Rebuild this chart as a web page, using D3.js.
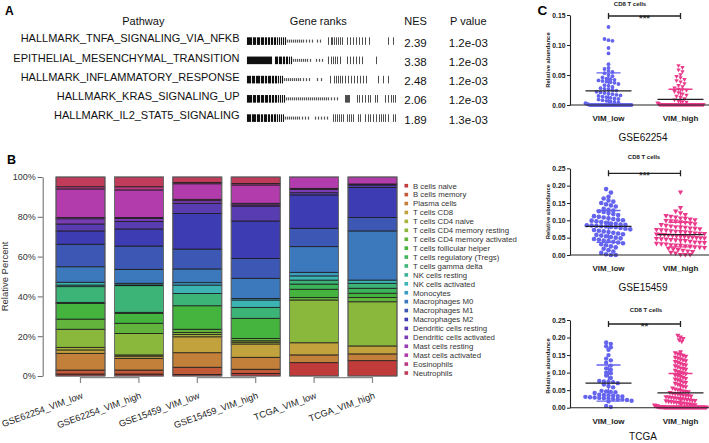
<!DOCTYPE html>
<html><head><meta charset="utf-8">
<script src="https://cdn.jsdelivr.net/npm/d3@7"></script>
<style>body{margin:0;background:#fff}svg{display:block;font-family:"Liberation Sans",Arial,sans-serif}</style>
</head><body>
<svg id="c" width="709" height="443"></svg>
<script>
// ---------------- Panel A data ----------------
const pathways = ["HALLMARK_TNFA_SIGNALING_VIA_NFKB","EPITHELIAL_MESENCHYMAL_TRANSITION","HALLMARK_INFLAMMATORY_RESPONSE","HALLMARK_KRAS_SIGNALING_UP","HALLMARK_IL2_STAT5_SIGNALING"];
const nesValues = [2.39, 3.38, 2.48, 2.06, 1.89];
const pValues = ["1.2e-03","1.2e-03","1.2e-03","1.2e-03","1.3e-03"];
const rankHits = [
  [0,1,2,3,4,6,7,8,10,11,12,14,15,16,18,19,21,22,24,25,27,28,30,32,34,36,38,81,84,85,87,89,91,93,95,100,103,106,109,112,115,118,122,141,146],
  [0,1,2,3,4,5,6,7,8,9,10,11,12,13,14,15,16,17,18,19,20,21,22,23,24,28,29,30,32,33,34,36,37,39,40,42,44,81,84,86,88,90,93,100,103,106,109,112,115,129],
  [0,1,2,3,5,6,7,9,10,11,12,14,15,16,18,19,21,22,23,25,26,28,29,31,33,35,83,87,89,91,93,95,98,101,104,107,110,113,116,119,131,136,141],
  [0,1,2,3,4,6,7,8,10,11,12,14,15,16,18,19,20,22,23,25,26,28,29,31,33,35,37,98,99,100,101,102,110,112,115,118,121,123,128,130,138,141,144,146,148],
  [0,1,2,3,5,6,7,8,10,11,12,14,15,17,18,19,21,22,24,25,27,28,30,32,34,36,86,88,90,92,94,96,100,102,104,106,111,113,118,121,123,126,129,132,134,136,138,141,146,148]
];
const rankTail = [
  [40,42,44,46,48,50,52,54,56,59,62,65,70,73],
  [46,48,50,52,54,56,58,60,63,69,72,75],
  [37,39,41,43,45,47,49,51,53,56,59,62,70,74],
  [39,41,43,45,47,49,51,53,55,57,59,61,63,65,67,69,71,73,75,77,79,81,84,87,90],
  [38,40,42,44,46,48,50,52,55,58,61,68,71,74,77,80]
];

// ---------------- Panel B data ----------------
const samples = ["GSE62254_VIM_low","GSE62254_VIM_high","GSE15459_VIM_low","GSE15459_VIM_high","TCGA_VIM_low","TCGA_VIM_high"];
const cellTypes = ["B cells naive","B cells memory","Plasma cells","T cells CD8","T cells CD4 naive","T cells CD4 memory resting","T cells CD4 memory activated","T cells follicular helper","T cells regulatory (Tregs)","T cells gamma delta","NK cells resting","NK cells activated","Monocytes","Macrophages M0","Macrophages M1","Macrophages M2","Dendritic cells resting","Dendritic cells activated","Mast cells resting","Mast cells activated","Eosinophils","Neutrophils"];
const gse62254Low  = [1.0,2.0,8.4,1.7,1.3,9.1,5.1,7.9,0.5,7.9,0.8,1.4,0.0,7.8,11.3,6.7,3.5,2.6,0.6,14.4,1.1,4.9];
const gse62254High = [1.0,2.0,5.9,1.1,0.6,10.8,5.1,5.0,0.5,13.4,0.4,0.8,0.0,7.0,11.7,8.6,3.8,1.4,0.6,13.8,1.6,4.9];
const gse15459Low  = [0.8,3.6,7.3,8.0,1.1,1.0,1.7,11.8,0.0,6.2,0.0,4.2,1.2,6.9,10.0,17.9,5.1,1.3,0.7,7.8,0.7,2.7];
const gse15459High = [1.3,2.1,6.0,6.7,0.9,0.7,1.2,10.1,0.0,5.5,0.0,3.7,0.8,10.1,10.0,18.8,7.5,0.6,0.8,9.2,0.8,3.2];
const tcgaLow      = [6.7,0.0,3.9,6.1,0.0,21.5,1.3,4.1,2.6,2.0,0.0,2.1,1.8,12.9,9.2,16.8,1.1,1.7,0.5,5.7,0.0,0.0];
const tcgaHigh     = [7.7,0.0,3.4,4.0,0.0,22.2,2.2,2.1,2.5,2.5,0.0,1.6,0.0,24.7,6.7,15.2,1.2,0.5,0.0,3.5,0.0,0.0];
const yTicksB = [0,20,40,60,80,100];

// ---------------- Panel C data ----------------
const groups = ["VIM_low","VIM_high"];
const cd8Gse62254Low = [0.130,0.110,0.108,0.107,0.095,0.086,0.068,0.062,0.060,0.057,0.055,0.053,0.050,0.048,0.046,0.044,0.043,0.042,0.041,0.040,0.039,0.038,0.037,0.035,0.033,0.032,0.030,0.028,0.027,0.026,0.025,0.024,0.022,0.021,0.020,0.019,0.018,0.017,0.016,0.015,0.014,0.013,0.012,0.011,0.010,0.009,0.008,0.007,0.006,0.005,0.004,0.003,0.002,0.001,0,0,0,0,0,0,0,0,0,0,0,0,0,0,0,0,0,0,0,0,0,0,0,0,0,0,0,0,0,0];
const cd8Gse62254High = [0.065,0.062,0.058,0.055,0.050,0.047,0.045,0.042,0.040,0.038,0.035,0.032,0.030,0.028,0.026,0.025,0.024,0.022,0.020,0.018,0.016,0.014,0.012,0.010,0.008,0.006,0.005,0.004,0.003,0.002,0.001,0,0,0,0,0,0,0,0,0,0,0,0,0,0,0,0,0,0,0,0,0,0,0,0,0,0,0,0,0,0,0,0,0,0,0,0,0,0,0,0,0,0,0,0,0,0,0,0,0,0,0,0,0,0,0,0,0,0,0,0];
const cd8Gse15459Low = [0.190,0.180,0.168,0.163,0.157,0.154,0.150,0.146,0.143,0.140,0.133,0.130,0.128,0.126,0.124,0.121,0.118,0.115,0.112,0.110,0.108,0.106,0.104,0.102,0.100,0.099,0.097,0.095,0.093,0.091,0.090,0.088,0.087,0.086,0.085,0.084,0.083,0.082,0.081,0.080,0.078,0.076,0.074,0.072,0.070,0.068,0.066,0.064,0.062,0.060,0.058,0.056,0.054,0.052,0.050,0.048,0.046,0.044,0.042,0.040,0.038,0.036,0.034,0.031,0.028,0.025,0.022,0.018,0.014,0.010,0.006,0.002,0.000,0.000];
const cd8Gse15459High = [0.180,0.135,0.125,0.120,0.115,0.112,0.110,0.108,0.105,0.104,0.102,0.100,0.098,0.097,0.096,0.094,0.092,0.090,0.088,0.086,0.084,0.082,0.080,0.079,0.078,0.076,0.075,0.074,0.072,0.071,0.070,0.068,0.067,0.066,0.065,0.064,0.062,0.061,0.060,0.059,0.058,0.057,0.056,0.055,0.054,0.053,0.052,0.051,0.050,0.049,0.048,0.047,0.046,0.045,0.044,0.043,0.042,0.041,0.040,0.038,0.036,0.035,0.034,0.032,0.031,0.030,0.028,0.027,0.026,0.025,0.024,0.022,0.021,0.020,0.018,0.016,0.014,0.012,0.010,0.008,0.006,0.004,0.000,0.000,0.000];
const cd8TcgaLow = [0.186,0.182,0.175,0.172,0.165,0.150,0.140,0.135,0.128,0.120,0.112,0.108,0.100,0.098,0.092,0.085,0.076,0.075,0.074,0.073,0.070,0.066,0.062,0.058,0.048,0.046,0.045,0.044,0.042,0.037,0.036,0.035,0.034,0.033,0.032,0.031,0.030,0.029,0.028,0.027,0.026,0.025,0.024,0.023,0.022,0.020,0.018,0.005,0.002];
const cd8TcgaHigh = [0.205,0.200,0.196,0.192,0.188,0.158,0.155,0.152,0.150,0.148,0.145,0.142,0.140,0.138,0.135,0.132,0.130,0.128,0.125,0.122,0.120,0.118,0.115,0.112,0.110,0.108,0.105,0.102,0.100,0.098,0.095,0.092,0.090,0.088,0.085,0.082,0.080,0.078,0.075,0.072,0.070,0.068,0.065,0.062,0.060,0.058,0.055,0.052,0.050,0.048,0.046,0.045,0.044,0.042,0.040,0.039,0.038,0.036,0.035,0.034,0.033,0.032,0.030,0.029,0.028,0.027,0.026,0.025,0.024,0.023,0.022,0.021,0.020,0.019,0.018,0.017,0.016,0.015,0.014,0.013,0.012,0.011,0.010,0.009,0.008,0.007,0.006,0.005,0.004,0.003,0.003,0.002,0.002,0.002,0.001,0.001,0.001,0.001,0.001,0,0,0,0,0,0,0,0,0,0,0,0,0,0,0,0,0,0,0,0,0,0,0,0,0,0,0,0,0,0,0,0,0,0,0,0,0,0,0,0,0,0,0,0,0,0,0,0,0,0,0,0,0,0,0];

// ---------------- styles ----------------
const palette = ["#C23B3B","#C25A3A","#C2803A","#C2A23C","#A8B43C","#8AB83C","#62B43C","#44B43E","#3CB45A","#3CB478","#3CB498","#3CB4B4","#3C9CC2","#3C78BC","#3C58B4","#3E3CB2","#5A3CB2","#7A3CB4","#9A3CB4","#B23CAC","#B83C84","#C03C5A"];
const lowColor = "#6464EE", highColor = "#EA3A8C";

const svg = d3.select("#c");

// ================= Panel A =================
svg.append("text").attr("x",5).attr("y",15).attr("font-size",12).attr("font-weight","bold").text("A");
const headA = [["Pathway",143.3],["Gene ranks",318.3],["NES",415.5],["P value",468.3]];
svg.selectAll("text.hd").data(headA).join("text").attr("class","hd")
  .attr("x",d=>d[1]).attr("y",25.2).attr("text-anchor","middle").attr("font-size",11).attr("fill","#111").text(d=>d[0]);
const rowY = d3.scalePoint().domain(pathways).range([42.3,119.3]);
const rankX = d3.scaleLinear().domain([0,150]).range([247,397]);
svg.selectAll("text.pw").data(pathways).join("text").attr("class","pw")
  .attr("x",239.5).attr("y",d=>rowY(d)).attr("text-anchor","end").attr("font-size",11).attr("fill","#111").text(d=>d);
pathways.forEach((p,i)=>{
  const cy = rowY(p)-1.2;
  svg.append("g").selectAll("line").data(rankHits[i]).join("line")
    .attr("x1",d=>Math.round(rankX(d))+0.5).attr("x2",d=>Math.round(rankX(d))+0.5)
    .attr("y1",cy-3.8).attr("y2",cy+3.8)
    .attr("stroke",d=>d<50?"#111":"#3a3a3a").attr("stroke-width",d=>d<50?1.1:0.9);
  svg.append("g").selectAll("line").data(rankTail[i]).join("line")
    .attr("x1",d=>Math.round(rankX(d))+0.5).attr("x2",d=>Math.round(rankX(d))+0.5)
    .attr("y1",cy-1.5).attr("y2",cy+1.5).attr("stroke","#555").attr("stroke-width",1.2);
  svg.append("text").attr("x",415.5).attr("y",rowY(p)+4.2).attr("text-anchor","middle").attr("font-size",11.5).attr("fill","#111").text(nesValues[i].toFixed(2));
  svg.append("text").attr("x",468.3).attr("y",rowY(p)+4.2).attr("text-anchor","middle").attr("font-size",11.5).attr("fill","#111").text(pValues[i]);
});

// ================= Panel B =================
svg.append("text").attr("x",7).attr("y",164).attr("font-size",12.5).attr("font-weight","bold").text("B");
const sampleValues = [gse62254Low,gse62254High,gse15459Low,gse15459High,tcgaLow,tcgaHigh];
const bRows = samples.map((s,i)=>{const r={sample:s}; cellTypes.forEach((c,j)=>r[c]=sampleValues[i][j]); return r;});
const series = d3.stack().keys(cellTypes)(bRows);
const xB = d3.scaleBand().domain(samples).range([56,397]).paddingInner(0.161).paddingOuter(0);
const yB = d3.scaleLinear().domain([0,100]).range([376,177]);
const col = d3.scaleOrdinal().domain(cellTypes).range(palette);
const gB = svg.append("g");
series.forEach(s=>{
  gB.append("g").selectAll("rect").data(s.filter(d=>d[1]-d[0]>0)).join("rect")
    .attr("x",d=>xB(d.data.sample)).attr("width",xB.bandwidth())
    .attr("y",d=>yB(d[1])).attr("height",d=>yB(d[0])-yB(d[1]))
    .attr("fill",col(s.key)).attr("stroke","#1c1c1c").attr("stroke-width",0.8);
});
gB.append("g").selectAll("rect").data(samples).join("rect")
  .attr("x",d=>xB(d)).attr("width",xB.bandwidth()).attr("y",yB(100)).attr("height",yB(0)-yB(100))
  .attr("fill","none").attr("stroke","#777").attr("stroke-width",0.8);
const yAxB = d3.axisLeft(yB).tickValues(yTicksB).tickFormat(d=>d+"%").tickSize(5).tickSizeOuter(0).tickPadding(2);
const gyB = svg.append("g").attr("transform","translate(42.7,0)").call(yAxB);
gyB.select(".domain").attr("stroke","#666");
gyB.selectAll(".tick line").attr("stroke","#666");
gyB.selectAll("text").attr("font-size",9).attr("fill","#333").attr("font-family",'"Liberation Sans",Arial,sans-serif');
svg.append("text").attr("transform","translate(8,276.5) rotate(-90)").attr("text-anchor","middle").attr("font-size",9.5).attr("fill","#333").text("Relative Percent");
const pairs = d3.range(0,samples.length,2).map(i=>[samples[i],samples[i+1]]);
svg.append("g").selectAll("path").data(pairs).join("path")
  .attr("d",d=>{const a=xB(d[0])+xB.bandwidth()/2,b=xB(d[1])+xB.bandwidth()/2;return `M${a},383V377.7H${b}V383`;})
  .attr("fill","none").attr("stroke","#888").attr("stroke-width",1.2);
svg.append("g").selectAll("text").data(samples).join("text")
  .attr("transform",d=>`translate(${xB(d)+xB.bandwidth()/2+3},398) rotate(-20)`)
  .attr("text-anchor","end").attr("font-size",9.2).attr("fill","#222").text(d=>d);
const legY = d3.scalePoint().domain(cellTypes).range([185.7,373]);
const gL = svg.append("g");
gL.selectAll("rect").data(cellTypes).join("rect").attr("x",404.5).attr("y",d=>legY(d)-1.8).attr("width",3.6).attr("height",3.6).attr("fill",d=>col(d));
gL.selectAll("text").data(cellTypes).join("text").attr("x",413).attr("y",d=>legY(d)+2.8).attr("font-size",7.8).attr("fill","#333").text(d=>d);

// ================= Panel C =================
svg.append("text").attr("x",537.5).attr("y",15).attr("font-size",13.5).attr("font-weight","bold").text("C");
const xC = d3.scalePoint().domain(groups).range([608.5,680.5]);
function swarm(values,y,diam,maxW,spf){
  const pts = values.map(v=>({v,py:y(v)}));
  const bins = d3.group(pts,d=>Math.round((y(0)-d.py)/diam));
  const out=[];
  for(const [k,arr] of bins){
    const n=arr.length, sp=n>1?Math.min(diam*spf,maxW/(n-1)):0;
    arr.forEach((d,i)=>out.push({v:d.v,py:d.py,dx:(i-(n-1)/2)*sp}));
  }
  return out;
}
function dotPanel(cfg){
  const y = d3.scaleLinear().domain([0,cfg.max]).range([cfg.y0,cfg.yTop]);
  const g = svg.append("g");
  const sets = [{grp:"VIM_low",vals:cfg.low,color:lowColor,shape:"circle",spf:1.05},{grp:"VIM_high",vals:cfg.high,color:highColor,shape:"tri",spf:cfg.highSpf}];
  sets.forEach(s=>{
    const pts = swarm(s.vals,y,cfg.r*2,cfg.maxW,s.spf);
    const cx = xC(s.grp);
    if(s.shape==="circle"){
      g.append("g").selectAll("circle").data(pts).join("circle")
        .attr("cx",d=>cx+d.dx).attr("cy",d=>d.py).attr("r",cfg.r).attr("fill",s.color);
    } else {
      const t=cfg.r*1.15;
      g.append("g").selectAll("path").data(pts).join("path")
        .attr("d",d=>`M${cx+d.dx-t},${d.py-t*0.8}L${cx+d.dx+t},${d.py-t*0.8}L${cx+d.dx},${d.py+t*0.95}Z`).attr("fill",s.color);
    }
  });
  sets.forEach(s=>{
    const cx = xC(s.grp), m=d3.mean(s.vals), sd=d3.deviation(s.vals);
    const top=y(m+sd), bot=y(Math.max(0,m-sd));
    g.append("path").attr("d",`M${cx},${bot}V${top}M${cx-12},${top}H${cx+12}M${cx-12},${bot}H${cx+12}`)
      .attr("stroke",s.color).attr("stroke-width",1.4).attr("fill","none");
    g.append("line").attr("x1",cx-23).attr("x2",cx+23).attr("y1",y(m)).attr("y2",y(m)).attr("stroke","#222").attr("stroke-width",1.3);
  });
  const ax = d3.axisLeft(y).tickValues(cfg.ticks).tickFormat(d3.format(".2f")).tickSize(3).tickSizeOuter(0).tickPadding(1.5);
  const ga = g.append("g").attr("transform","translate(570,0)").call(ax);
  ga.select(".domain").attr("stroke","#222").attr("stroke-width",1.1);
  ga.selectAll(".tick line").attr("stroke","#222");
  ga.selectAll("text").attr("font-size",6.8).attr("font-weight","bold").attr("fill","#222").attr("font-family",'"Liberation Sans",Arial,sans-serif');
  g.append("line").attr("x1",570).attr("x2",709).attr("y1",cfg.y0).attr("y2",cfg.y0).attr("stroke","#222").attr("stroke-width",1.1);
  g.selectAll("text.cat").data(groups).join("text").attr("class","cat").attr("x",d=>xC(d)).attr("y",cfg.y0+16)
    .attr("text-anchor","middle").attr("font-size",8).attr("font-weight","bold").attr("fill","#222").text(d=>d);
  g.append("text").attr("transform",`translate(549.5,${cfg.ylabY}) rotate(-90)`).attr("text-anchor","middle")
    .attr("font-size",5.9).attr("font-weight","bold").attr("fill","#222").text("Relative abundance");
  g.append("text").attr("x",cfg.titleX).attr("y",cfg.titleY).attr("text-anchor","middle").attr("font-size",6).attr("font-weight","bold").attr("fill","#222").text("CD8 T cells");
  const a=xC("VIM_low"), b=xC("VIM_high");
  g.append("path").attr("d",`M${a},${cfg.brY-3}V${cfg.brY+3}M${a},${cfg.brY}H${b}M${b},${cfg.brY-3}V${cfg.brY+3}`).attr("stroke","#222").attr("stroke-width",1.3).attr("fill","none");
  g.append("text").attr("x",(a+b)/2).attr("y",cfg.brY+4.5).attr("text-anchor","middle").attr("font-size",9.5).attr("font-weight","bold").attr("fill","#222").text(cfg.sig);
  g.append("text").attr("x",643).attr("y",cfg.dsY).attr("text-anchor","middle").attr("font-size",10).attr("fill","#111").text(cfg.name);
}
dotPanel({low:cd8Gse62254Low,high:cd8Gse62254High,max:0.15,ticks:[0,0.05,0.10,0.15],y0:105,yTop:15,r:1.9,maxW:46,highSpf:1.05,ylabY:60,titleX:630,titleY:5.5,brY:16,sig:"***",name:"GSE62254",dsY:141});
dotPanel({low:cd8Gse15459Low,high:cd8Gse15459High,max:0.25,ticks:[0,0.05,0.10,0.15,0.20,0.25],y0:255,yTop:168.3,r:2.3,maxW:48,highSpf:1.05,ylabY:211.7,titleX:644,titleY:159,brY:173.3,sig:"***",name:"GSE15459",dsY:290.5});
dotPanel({low:cd8TcgaLow,high:cd8TcgaHigh,max:0.25,ticks:[0,0.05,0.10,0.15,0.20,0.25],y0:407.7,yTop:320,r:2.2,maxW:52,highSpf:0.6,ylabY:366,titleX:646,titleY:311.5,brY:324,sig:"**",name:"TCGA",dsY:440});
</script>
</body></html>
